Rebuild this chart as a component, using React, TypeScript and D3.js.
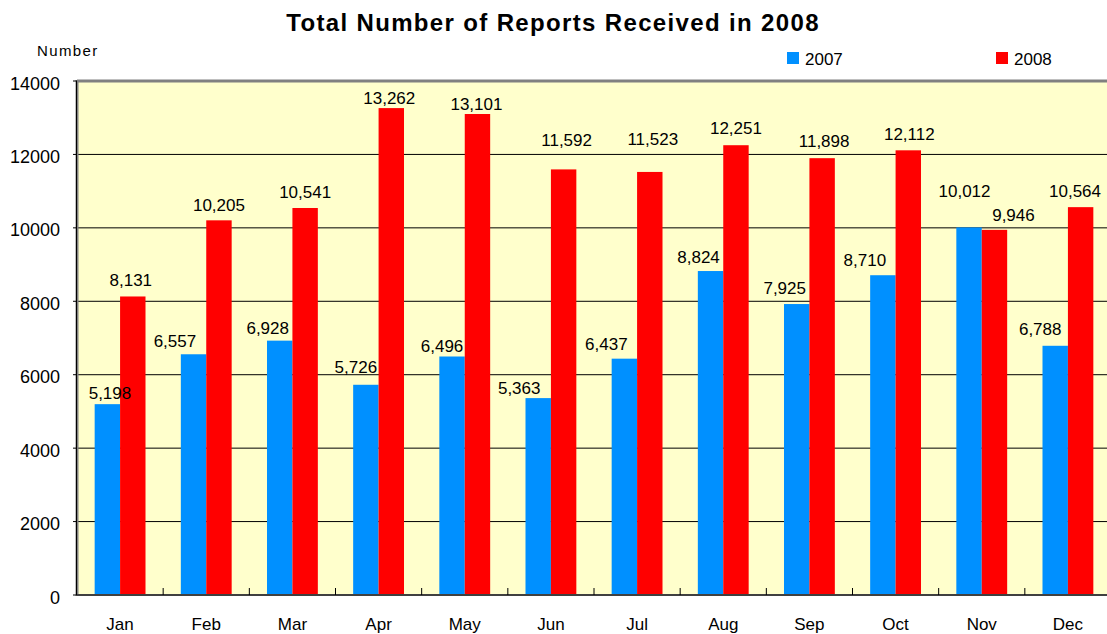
import * as d3 from "d3";

const MONTHS = ["Jan", "Feb", "Mar", "Apr", "May", "Jun", "Jul", "Aug", "Sep", "Oct", "Nov", "Dec"];
const SERIES = ["2007", "2008"];
const VALUES_2007 = [5198, 6557, 6928, 5726, 6496, 5363, 6437, 8824, 7925, 8710, 10012, 6788];
const VALUES_2008 = [8131, 10205, 10541, 13262, 13101, 11592, 11523, 12251, 11898, 12112, 9946, 10564];
const Y_TICKS = [0, 2000, 4000, 6000, 8000, 10000, 12000, 14000];

// hand-placed label nudges, as in the source chart (dx from bar centre, gap above bar top)
const LABEL_DX = [
  [2.6, -18.6, -12, -10, -10, -19, -18, -12, -12, -18, -4.5, -15],
  [-2, 0, 0, -2, -1, 3, 3, 0, 2, 1, 19, -5.6],
];
const LABEL_GAP = [
  [5, 7, 7, 12, 5, 4, 8.5, 8, 10, 9, 30, 11],
  [10.5, 9.6, 9.7, 4, 4, 23, 27, 11, 11, 10, 9, 10],
];

const WIDTH = 1107;
const HEIGHT = 634;
const PLOT = { left: 77, right: 1111, top: 81, bottom: 595 };
const COLORS = ["#0090ff", "#ff0000"];
const FONT = "'Liberation Sans', Arial, sans-serif";

export default function App() {
  const x = d3.scaleBand<string>().domain(MONTHS).range([PLOT.left, PLOT.right]).paddingInner(0.41).paddingOuter(0.205);
  const inner = d3.scaleBand<string>().domain(SERIES).range([0, x.bandwidth()]);
  const y = d3.scaleLinear().domain([0, 14000]).range([PLOT.bottom, PLOT.top]);
  const step = x.step();
  const fmt = d3.format(",");
  const series = [VALUES_2007, VALUES_2008];

  return (
    <svg width={WIDTH} height={HEIGHT} style={{ position: "absolute", left: 0, top: 0 }} fontFamily={FONT}>
      <rect x={0} y={0} width={WIDTH} height={HEIGHT} fill="#ffffff" />
      <text x={553} y={31} textAnchor="middle" fontSize={24} fontWeight="700" letterSpacing="1.35" fill="#000">
        Total Number of Reports Received in 2008
      </text>
      <text x={37} y={56} fontSize={15} letterSpacing="1.4" fill="#000">
        Number
      </text>

      {SERIES.map((s, i) => (
        <g key={s} transform={`translate(${i === 0 ? 787 : 996} 52)`}>
          <rect x={0} y={0} width={12} height={12} fill={COLORS[i]} />
          <text x={18} y={13} fontSize={17} fill="#000">
            {s}
          </text>
        </g>
      ))}

      <rect x={PLOT.left} y={PLOT.top} width={PLOT.right - PLOT.left} height={PLOT.bottom - PLOT.top} fill="#ffffcc" />
      {Y_TICKS.slice(1).map((t) => (
        <line key={t} x1={PLOT.left} x2={PLOT.right} y1={y(t)} y2={y(t)} stroke="#000" strokeWidth={1} />
      ))}
      <line x1={PLOT.left} x2={PLOT.right} y1={PLOT.top} y2={PLOT.top} stroke="#808080" strokeWidth={3} />

      {series.map((vals, si) =>
        vals.map((v, i) => (
          <rect
            key={`${si}-${i}`}
            x={(x(MONTHS[i]) ?? 0) + (inner(SERIES[si]) ?? 0)}
            y={y(v)}
            width={inner.bandwidth()}
            height={PLOT.bottom - y(v)}
            fill={COLORS[si]}
          />
        ))
      )}

      <line x1={PLOT.left} x2={PLOT.left} y1={PLOT.top - 1} y2={PLOT.bottom + 1} stroke="#808080" strokeWidth={3} />
      <line x1={PLOT.left - 0.5} x2={PLOT.left - 0.5} y1={PLOT.top} y2={PLOT.bottom} stroke="#000" strokeWidth={1} />
      <line x1={PLOT.left} x2={PLOT.right} y1={PLOT.bottom} y2={PLOT.bottom} stroke="#404040" strokeWidth={2} />
      {Y_TICKS.map((t) => (
        <line key={t} x1={PLOT.left - 4} x2={PLOT.left} y1={y(t)} y2={y(t)} stroke="#000" strokeWidth={1} />
      ))}
      {d3.range(1, MONTHS.length).map((i) => (
        <line key={i} x1={PLOT.left + i * step} x2={PLOT.left + i * step} y1={PLOT.bottom} y2={PLOT.bottom - 7} stroke="#000" strokeWidth={1} />
      ))}

      {Y_TICKS.map((t) => (
        <text key={t} x={60} y={y(t) + 8.5} textAnchor="end" fontSize={18} fill="#000">
          {t}
        </text>
      ))}
      {MONTHS.map((m) => (
        <text key={m} x={(x(m) ?? 0) + x.bandwidth() / 2} y={630} textAnchor="middle" fontSize={17} fill="#000">
          {m}
        </text>
      ))}

      {series.map((vals, si) =>
        vals.map((v, i) => (
          <text
            key={`l${si}-${i}`}
            x={(x(MONTHS[i]) ?? 0) + (inner(SERIES[si]) ?? 0) + inner.bandwidth() / 2 + LABEL_DX[si][i]}
            y={y(v) - LABEL_GAP[si][i]}
            textAnchor="middle"
            fontSize={17}
            fill="#000"
          >
            {fmt(v)}
          </text>
        ))
      )}
    </svg>
  );
}
